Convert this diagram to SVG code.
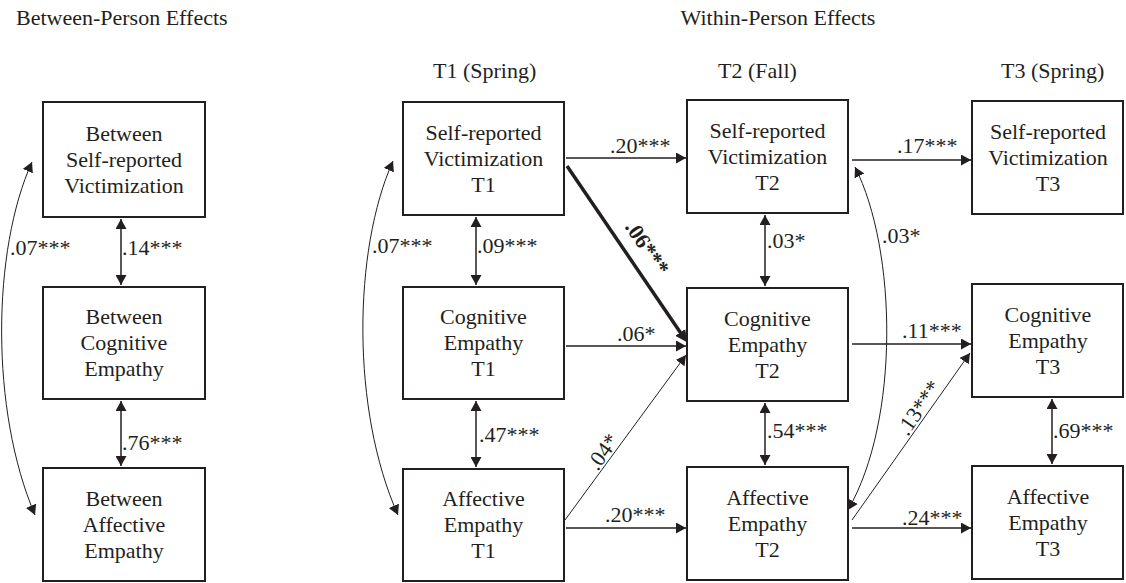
<svg xmlns="http://www.w3.org/2000/svg" width="1126" height="583" viewBox="0 0 1126 583">
<style>
text{font-family:"Liberation Serif","Times New Roman",serif;font-size:22px;fill:#231f20}
.node rect{fill:#fff;stroke:#231f20;stroke-width:2}
.node text{text-anchor:middle}
.c{fill:none;stroke:#231f20;stroke-width:1.5}
.thin{stroke-width:1}
.bold{stroke-width:3.5}
.two{marker-start:url(#ah);marker-end:url(#ah)}
.one{marker-end:url(#ah)}
</style>
<defs>
<marker id="ah" viewBox="0 0 10 11" refX="10" refY="5.5" markerWidth="10" markerHeight="11" markerUnits="userSpaceOnUse" orient="auto-start-reverse"><path d="M0,0 L10,5.5 L0,11 z" fill="#231f20"/></marker>
<marker id="ahb" viewBox="0 0 12 12" refX="8" refY="6" markerWidth="12" markerHeight="12" markerUnits="userSpaceOnUse" orient="auto"><path d="M0,0 L12,6 L0,12 z" fill="#231f20"/></marker>
</defs>
<rect width="1126" height="583" fill="#fff"/>
<text x="16" y="25">Between-Person Effects</text>
<text x="778" y="25" text-anchor="middle">Within-Person Effects</text>
<text x="433" y="78">T1 (Spring)</text>
<text x="718" y="78">T2 (Fall)</text>
<text x="1001" y="78">T3 (Spring)</text>

<g id="connectors">
<path class="c two" d="M121,219 V285"/>
<path class="c two" d="M121,401 V466"/>
<path class="c thin two" d="M32,162 C -8,250 -10,410 35,515"/>
<path class="c thin two" d="M393,161 C 353,250 351,410 398,515"/>
<path class="c one" d="M566,158 H686"/>
<path class="c two" d="M476,217 V285"/>
<path class="c two" d="M476,401 V467"/>
<path class="c bold" d="M567,166 L684.8,339" marker-end="url(#ahb)"/>
<path class="c one" d="M566,346 H686"/>
<path class="c thin one" d="M565,520 L686,355"/>
<path class="c one" d="M566,528 H686"/>
<path class="c two" d="M765,215 V286"/>
<path class="c two" d="M765,403 V465"/>
<path class="c one" d="M852,160 H971"/>
<path class="c one" d="M852,344 H971"/>
<path class="c thin one" d="M852,520 L970,353"/>
<path class="c one" d="M852,528 H971"/>
<path class="c thin two" d="M855,167 C 897,250 900,420 848,510"/>
<path class="c two" d="M1052,399 V464"/>
</g>

<g id="labels">
<text x="10" y="255">.07***</text>
<text x="122" y="255">.14***</text>
<text x="122" y="450">.76***</text>
<text x="372" y="253">.07***</text>
<text x="477" y="253">.09***</text>
<text x="610" y="153">.20***</text>
<text x="647" y="248" text-anchor="middle" font-weight="bold" transform="rotate(56 647 248)" dy="7">.06***</text>
<text x="617" y="341">.06*</text>
<text x="603" y="452" text-anchor="middle" transform="rotate(-55 603 452)" dy="7">.04*</text>
<text x="605" y="522">.20***</text>
<text x="479" y="442">.47***</text>
<text x="897" y="153">.17***</text>
<text x="767" y="248">.03*</text>
<text x="882" y="243">.03*</text>
<text x="902" y="338">.11***</text>
<text x="767" y="438">.54***</text>
<text x="919" y="408" text-anchor="middle" transform="rotate(-55.5 919 408)" dy="7">.13***</text>
<text x="902" y="525">.24***</text>
<text x="1053" y="438">.69***</text>
</g>

<g id="n-between-vic" class="node"><rect x="43" y="102" width="162" height="115"/><text><tspan x="124" y="140.5">Between</tspan><tspan x="124" y="166.5">Self-reported</tspan><tspan x="124" y="192.5">Victimization</tspan></text></g>
<g id="n-between-cog" class="node"><rect x="43" y="287" width="162" height="112"/><text><tspan x="124" y="324">Between</tspan><tspan x="124" y="350">Cognitive</tspan><tspan x="124" y="376">Empathy</tspan></text></g>
<g id="n-between-aff" class="node"><rect x="43" y="468" width="162" height="113"/><text><tspan x="124" y="506">Between</tspan><tspan x="124" y="532">Affective</tspan><tspan x="124" y="558">Empathy</tspan></text></g>

<g id="n-vic-t1" class="node"><rect x="403" y="102" width="161" height="113"/><text><tspan x="483.5" y="140">Self-reported</tspan><tspan x="483.5" y="166">Victimization</tspan><tspan x="483.5" y="192">T1</tspan></text></g>
<g id="n-cog-t1" class="node"><rect x="403" y="287" width="161" height="112"/><text><tspan x="483.5" y="324">Cognitive</tspan><tspan x="483.5" y="350">Empathy</tspan><tspan x="483.5" y="376">T1</tspan></text></g>
<g id="n-aff-t1" class="node"><rect x="403" y="469" width="161" height="112"/><text><tspan x="483.5" y="506">Affective</tspan><tspan x="483.5" y="532">Empathy</tspan><tspan x="483.5" y="558">T1</tspan></text></g>

<g id="n-vic-t2" class="node"><rect x="687" y="100" width="161" height="113"/><text><tspan x="767.5" y="138">Self-reported</tspan><tspan x="767.5" y="164">Victimization</tspan><tspan x="767.5" y="190">T2</tspan></text></g>
<g id="n-cog-t2" class="node"><rect x="687" y="288" width="161" height="113"/><text><tspan x="767.5" y="326">Cognitive</tspan><tspan x="767.5" y="352">Empathy</tspan><tspan x="767.5" y="378">T2</tspan></text></g>
<g id="n-aff-t2" class="node"><rect x="687" y="467" width="161" height="113"/><text><tspan x="767.5" y="505">Affective</tspan><tspan x="767.5" y="531">Empathy</tspan><tspan x="767.5" y="557">T2</tspan></text></g>

<g id="n-vic-t3" class="node"><rect x="972" y="101" width="151" height="113"/><text><tspan x="1048" y="139">Self-reported</tspan><tspan x="1048" y="165">Victimization</tspan><tspan x="1048" y="191">T3</tspan></text></g>
<g id="n-cog-t3" class="node"><rect x="972" y="284" width="151" height="113"/><text><tspan x="1048" y="322">Cognitive</tspan><tspan x="1048" y="348">Empathy</tspan><tspan x="1048" y="374">T3</tspan></text></g>
<g id="n-aff-t3" class="node"><rect x="972" y="466" width="151" height="113"/><text><tspan x="1048" y="504">Affective</tspan><tspan x="1048" y="530">Empathy</tspan><tspan x="1048" y="556">T3</tspan></text></g>
</svg>
